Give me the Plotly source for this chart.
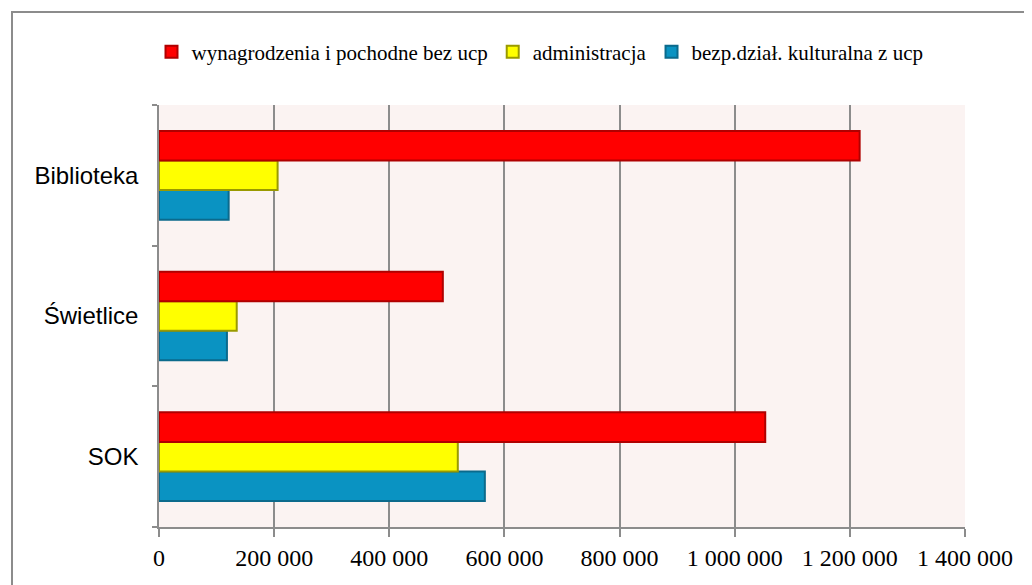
import plotly.graph_objects as go

categories = ["Biblioteka", "Świetlice", "SOK"]
wynagrodzenia = [1217000, 493000, 1053000]
administracja = [206000, 135000, 519000]
bezp_dzial = [121000, 118000, 566000]
series_names = ["wynagrodzenia i pochodne bez ucp", "administracja", "bezp.dział. kulturalna z ucp"]
tick_values = [0, 200000, 400000, 600000, 800000, 1000000, 1200000, 1400000]
tick_labels = ["0", "200 000", "400 000", "600 000", "800 000", "1 000 000", "1 200 000", "1 400 000"]

fig = go.Figure()
# add bottom-most first (horizontal grouped bars stack upward)
fig.add_trace(go.Bar(y=categories, x=bezp_dzial, name=series_names[2], orientation="h",
                     marker=dict(color="#0A93C2", line=dict(color="#0B6A8C", width=2))))
fig.add_trace(go.Bar(y=categories, x=administracja, name=series_names[1], orientation="h",
                     marker=dict(color="#FFFF00", line=dict(color="#9A9A00", width=2))))
fig.add_trace(go.Bar(y=categories, x=wynagrodzenia, name=series_names[0], orientation="h",
                     marker=dict(color="#FF0000", line=dict(color="#B00000", width=2))))

# page body has an 8px offset; compensate
OFF = 8
W, H = 1032, 585
L, R, T, B = 159 - OFF, 965 - OFF, 105 - OFF, 527 - OFF
ml, mr, mt, mb = L, W - R, T, H - B
pw, ph = R - L, B - T

fig.update_layout(
    width=W, height=H,
    margin=dict(l=ml, r=mr, t=mt, b=mb),
    paper_bgcolor="white",
    plot_bgcolor="#FBF3F2",
    barmode="group",
    bargap=0.37,
    bargroupgap=0,
    showlegend=True,
    legend=dict(orientation="h", traceorder="reversed",
                xref="container", x=(540 - OFF) / W, xanchor="center",
                yref="container", y=1 - (52 - OFF) / H, yanchor="middle",
                font=dict(family="Liberation Serif", size=21, color="black"),
                itemwidth=30, bgcolor="rgba(0,0,0,0)"),
    xaxis=dict(range=[0, 1400000], tickvals=tick_values, ticktext=tick_labels,
               showgrid=True, gridcolor="#8C8C8C", gridwidth=1.5,
               showline=True, linecolor="#8C8C8C", linewidth=1.5,
               ticks="outside", ticklen=8, tickcolor="#8C8C8C", tickwidth=1.5,
               tickfont=dict(family="Liberation Serif", size=24, color="black"),
               zeroline=False, fixedrange=True),
    yaxis=dict(categoryorder="array", categoryarray=list(reversed(categories)),
               showline=True, linecolor="#8C8C8C", linewidth=1.5,
               ticks="outside", tickson="boundaries", ticklen=5, tickcolor="#8C8C8C", tickwidth=1.5,
               tickfont=dict(family="Liberation Sans", size=24, color="black"),
               ticklabelstandoff=14, showgrid=False, fixedrange=True),
    shapes=[dict(type="rect", xref="paper", yref="paper",
                 x0=(12 - OFF - L) / pw, x1=(1031 - OFF - L) / pw,
                 y0=(B - 600) / ph, y1=(B - (12 - OFF)) / ph,
                 line=dict(color="#8C8C8C", width=2), fillcolor="rgba(0,0,0,0)", layer="below")],
)

fig.write_html("out.html")
